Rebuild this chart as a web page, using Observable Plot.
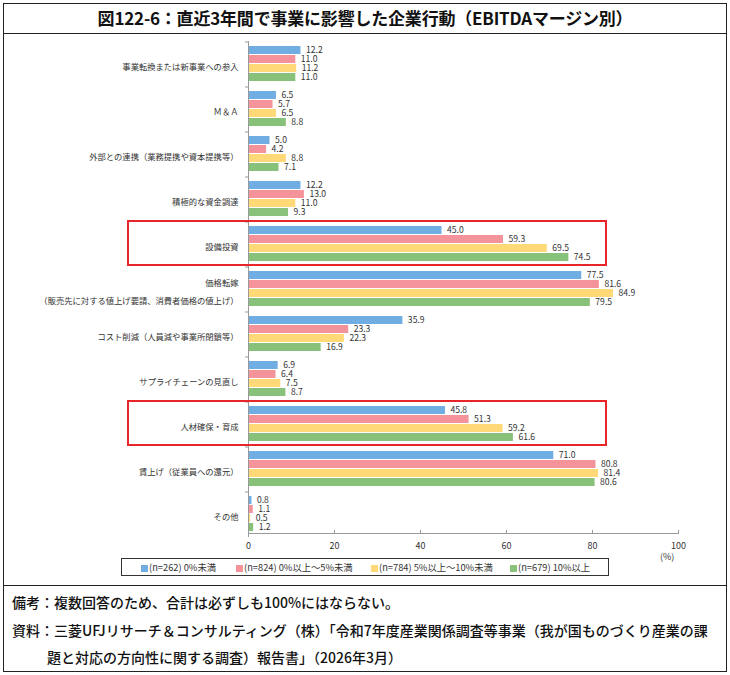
<!DOCTYPE html>
<html><head><meta charset="utf-8">
<script src="https://cdn.jsdelivr.net/npm/d3@7"></script>
<script src="https://cdn.jsdelivr.net/npm/@observablehq/plot@0.6"></script>
<style>
body{margin:0;background:#fff;font-family:"Noto Sans CJK JP","Noto Sans",sans-serif;}
.abs{position:absolute;}
#border{left:3px;top:3px;width:724px;height:669px;border:1px solid #222;box-sizing:border-box;}
.hline{height:1px;background:#222;left:3px;width:724px;}
#title{left:3px;top:3px;width:724px;height:30px;line-height:30px;text-align:center;font-size:17px;font-weight:700;color:#111;letter-spacing:-0.2px;}
.note{font-size:14px;font-weight:500;color:#111;white-space:nowrap;}
#legend{left:121px;top:558px;width:488px;height:18px;border:1px solid #333;box-sizing:border-box;font-size:9.3px;color:#333;}
.li{position:absolute;top:2px;line-height:12px;white-space:nowrap;}
.sw{display:inline-block;width:7px;height:7px;margin-right:1px;vertical-align:-0.5px;}
#pct{left:660px;top:550px;font-size:9px;color:#333;}
#chart{left:0;top:33px;}
</style></head>
<body>
<div id="border" class="abs"></div>
<div id="title" class="abs"></div>
<div class="abs hline" style="top:33px"></div>
<div id="chart" class="abs"></div>
<div id="pct" class="abs">(%)</div>
<div id="legend" class="abs"></div>
<div class="abs hline" style="top:585px"></div>
<div class="abs note" style="left:12px;top:592px">備考：複数回答のため、合計は必ずしも100%にはならない。</div>
<div class="abs note" style="left:12px;top:620px">資料：三菱UFJリサーチ＆コンサルティング（株）「令和7年度産業関係調査等事業（我が国ものづくり産業の課</div>
<div class="abs note" style="left:47px;top:647px">題と対応の方向性に関する調査）報告書」（2026年3月）</div>
<script>
const titleText = "図122-6：直近3年間で事業に影響した企業行動（EBITDAマージン別）";
const categories = [
  "事業転換または新事業への参入",
  "Ｍ＆Ａ",
  "外部との連携（業務提携や資本提携等）",
  "積極的な資金調達",
  "設備投資",
  "価格転嫁\n（販売先に対する値上げ要請、消費者価格の値上げ）",
  "コスト削減（人員減や事業所閉鎖等）",
  "サプライチェーンの見直し",
  "人材確保・育成",
  "賃上げ（従業員への還元）",
  "その他"
];
const seriesNames = ["(n=262) 0%未満", "(n=824) 0%以上～5%未満", "(n=784) 5%以上～10%未満", "(n=679) 10%以上"];
const seriesColors = ["#6FADE2", "#F4939A", "#FFD978", "#88C27A"];
const s1 = [12.2, 6.5, 5.0, 12.2, 45.0, 77.5, 35.9, 6.9, 45.8, 71.0, 0.8];
const s2 = [11.0, 5.7, 4.2, 13.0, 59.3, 81.6, 23.3, 6.4, 51.3, 80.8, 1.1];
const s3 = [11.2, 6.5, 8.8, 11.0, 69.5, 84.9, 22.3, 7.5, 59.2, 81.4, 0.5];
const s4 = [11.0, 8.8, 7.1, 9.3, 74.5, 79.5, 16.9, 8.7, 61.6, 80.6, 1.2];
const xTicks = [0, 20, 40, 60, 80, 100];
const highlighted = ["設備投資", "人材確保・育成"];

document.getElementById("title").textContent = titleText;

const seriesValues = [s1, s2, s3, s4];
const rows = [];
categories.forEach((c, i) => seriesNames.forEach((s, j) => rows.push({category: c, series: s, value: seriesValues[j][i]})));

const legend = document.getElementById("legend");
const legendLeft = [19, 114, 249, 388];
seriesNames.forEach((s, j) => {
  const d = document.createElement("div");
  d.className = "li";
  d.style.left = legendLeft[j] + "px";
  d.innerHTML = `<span class="sw" style="background:${seriesColors[j]}"></span>${s}`;
  legend.appendChild(d);
});

const chart = Plot.plot({
  width: 730, height: 530,
  marginLeft: 248, marginRight: 52, marginTop: 11, marginBottom: 29.5,
  style: {fontFamily: '"Noto Sans CJK JP","Noto Sans",sans-serif', background: "transparent"},
  x: {domain: [0, 100]},
  fy: {domain: categories, paddingInner: 0.155, paddingOuter: 0, label: null},
  y: {domain: seriesNames, axis: null, paddingInner: 0.1, paddingOuter: 0.03},
  color: {domain: seriesNames, range: seriesColors},
  marks: [
    Plot.barX(rows, {fy: "category", y: "series", x: "value", fill: "series"}),
    Plot.text(rows, {fy: "category", y: "series", x: "value", text: d => d.value.toFixed(1), dx: 5, textAnchor: "start", fontSize: 8.6, fill: "#333"}),
    Plot.ruleX([0], {stroke: "#999", insetTop: -4, insetBottom: -4}),
    Plot.ruleY(categories, {fy: d => d, y: () => seriesNames[0], x1: 0, x2: 0, insetLeft: -3, dy: -8.5, stroke: "#999"}),
    Plot.frame({anchor: "bottom", facetAnchor: "bottom", stroke: "#999"}),
    Plot.rect(highlighted, {fy: d => d, x1: () => 0, x2: () => 100, insetLeft: -120, insetRight: 72, insetTop: -4, insetBottom: -2, fill: "none", stroke: "#E8262A", strokeWidth: 2}),
    Plot.axisFy({anchor: "left", tickSize: 0, tickPadding: 10, fontSize: 8.3, lineHeight: 2.2, label: null, fill: "#333"}),
    Plot.axisX({anchor: "bottom", ticks: xTicks, tickSize: -3, tickPadding: 12, fontSize: 9, label: null, stroke: "#999", fill: "#333"})
  ]
});
document.getElementById("chart").appendChild(chart);
</script>
</body></html>
